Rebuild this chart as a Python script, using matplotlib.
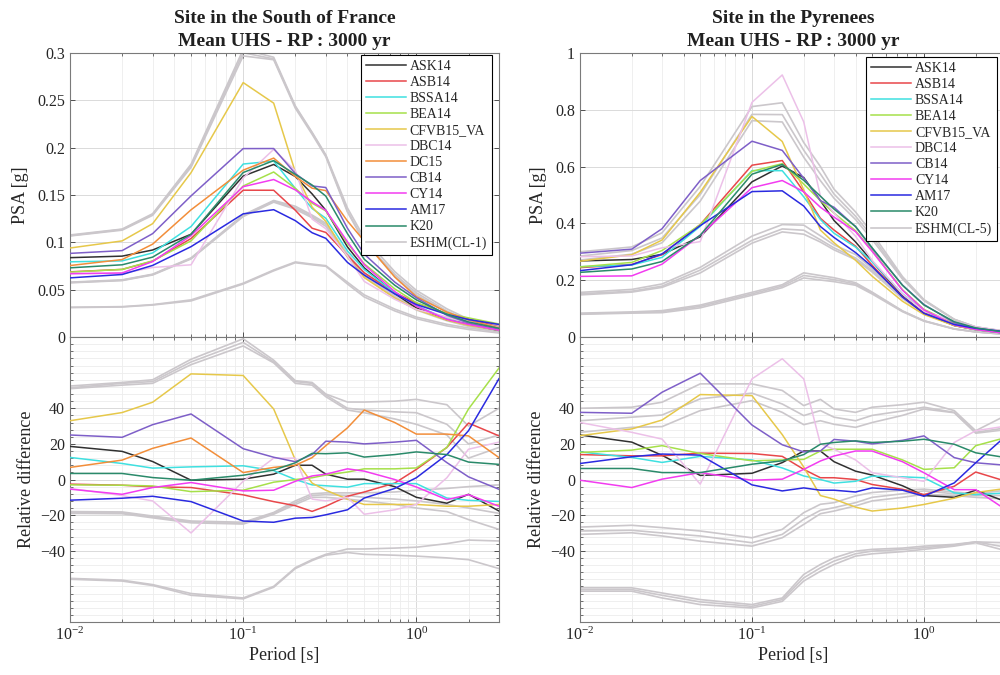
import numpy as np
import matplotlib
matplotlib.use('Agg')
import matplotlib.pyplot as plt
from matplotlib.ticker import LogLocator, MultipleLocator, NullFormatter

plt.rcParams['font.family'] = ['Liberation Serif', 'DejaVu Serif']
plt.rcParams['mathtext.fontset'] = 'stix'

# Periodes spectrales [s]
periods = [0.01, 0.02, 0.03, 0.05, 0.1, 0.15, 0.2, 0.25, 0.3, 0.4, 0.5, 0.75, 1.0, 1.5, 2.0, 3.0]

# Spectre de reference (PSA [g]) pour chaque site
ref_france = [0.0707, 0.0738, 0.0835, 0.109, 0.1697, 0.177, 0.157, 0.140, 0.130, 0.095, 0.073, 0.048, 0.034, 0.021, 0.0145, 0.0085]
ref_pyrenees = [0.2144, 0.2256, 0.256, 0.345, 0.528, 0.55, 0.484, 0.414, 0.373, 0.32, 0.26, 0.15, 0.092, 0.045, 0.028, 0.015]

# Difference relative [%] - Site in the South of France
fr_ASK14 = [18.6, 15.8, 10.1, -0.4, 0.2, 3, 8, 8, 3, 0.2, 0.2, -4, -10, -13.3, -8.3, -17.7]
fr_ASB14 = [-2.6, -3.2, -4.1, -4.5, -8.6, -12.4, -14.7, -17.9, -15, -9.4, -7, -2, 5.7, 18, 31.7, 24.5]
fr_BSSA14 = [12.4, 9, 6.4, 7.1, 7.7, 5, 0, -3, -3.5, -4.3, -2.3, -2.3, -2.3, -10.4, -11.7, -12.3]
fr_BEA14 = [-3, -3.2, -3.6, -6.8, -6, -1.5, 0, 1, 2.5, 4.2, 6, 6, 6.5, 18, 39.6, 62.6]
fr_CFVB15 = [33, 37.6, 43.4, 59.3, 58.4, 39.6, 11, -2, -6, -11, -14, -14, -14, -15, -15, -14]
fr_DBC14 = [-5, -9, -12, -30, -1, 12, 12, -11, -12, -10, -19.5, -17, -14, 1, 17, 21]
fr_DC15 = [6.8, 10.9, 17.5, 23.3, 3.9, 6.8, 8, 12.3, 19, 29, 39, 32, 25.5, 25.5, 24.5, 12.3]
fr_CB14 = [25, 23.7, 30.8, 36.8, 17.3, 12.5, 10, 14, 21.5, 21, 20, 21, 22, 9.5, 1.5, -5.5]
fr_CY14 = [-5.4, -8.3, -4.5, -1.7, -6.4, -6, -1, 2, 3, 6, 4.7, 0, -4.2, -11.3, -8.5, -15]
fr_AM17 = [-11.6, -10.5, -9.4, -12.4, -23.3, -24, -21.7, -21.3, -19.8, -17, -10.4, -5, 1, 14, 27.4, 56.6]
fr_K20 = [3.4, 3.4, 1.1, -0.4, 2.4, 5.3, 9.4, 14.7, 14.5, 15, 12.6, 14, 15.5, 14, 9.8, 8.5]

fr_eshm_1 = [52.5, 54.5, 56, 67.5, 79, 67, 55.5, 54.5, 48, 43.5, 43.5, 44, 45, 42, 30, 40]
fr_eshm_2 = [51.5, 54, 55, 66, 77, 66, 55, 54, 47.5, 40, 39, 38, 37.5, 31, 20, 25]
fr_eshm_3 = [51, 53, 54, 64.5, 75, 65.5, 54, 53, 46.5, 39, 37.5, 34, 31, 25, 12, 18]
fr_eshm_4 = [-18, -18.2, -20.5, -23.3, -24, -18.5, -12, -8, -7.5, -7.5, -7.5, -7, -6, -5, -4, -3]
fr_eshm_5 = [-18.5, -18.7, -21, -23.8, -24.5, -19, -13, -9, -8.5, -9, -10, -11, -12, -14, -16, -19]
fr_eshm_6 = [-19, -19.2, -21.5, -24.3, -25, -19.5, -14, -10, -10, -11, -12, -14, -16, -18, -22.5, -28]
fr_eshm_7 = [-55.5, -56.5, -59, -64, -66.5, -60, -49.5, -45, -42, -39, -39, -38.5, -38, -36, -34, -34.5]
fr_eshm_8 = [-56, -57, -59.5, -65, -67, -60.5, -50, -45.5, -42.5, -41, -42, -42.5, -43, -44, -45, -50]

# Difference relative [%] - Site in the Pyrenees
py_ASK14 = [25, 21, 13.6, 2.3, 3.5, 9.5, 16, 16, 10, 4.7, 2.5, -3.5, -9, -10, -6, -12.5]
py_ASB14 = [14, 13.3, 13.3, 14.8, 14.6, 13, 5.7, 1, 1, 0, -2.8, -5.5, -8.5, -3.8, 4.2, -1]
py_BSSA14 = [15.5, 12.4, 9.6, 13, 11, 6.5, 2, 0, -2, -1, 1.9, 1.5, 1, -7.5, -8.5, -7.5]
py_BEA14 = [15.2, 16.5, 19, 14.6, 10.5, 11, 11.3, 16, 17, 17, 17, 11, 5.7, 6.6, 19, 23.6]
py_CFVB15 = [24.6, 28.4, 33.4, 47.7, 47.1, 25.2, 7, -9, -11, -15.5, -17.7, -16, -14, -10.5, -7.3, -5]
py_DBC14 = [32, 26.5, 22.7, -2.6, 56.5, 67.8, 56.5, 20, 17, 11, 3.8, 1, -1, 20.8, 27.4, 30]
py_CB14 = [37.7, 37.2, 49, 59.7, 30.6, 19.5, 15.5, 16, 22.5, 21.5, 20, 22, 24.5, 12.3, 9.4, 8]
py_CY14 = [-0.4, -4.5, 0.2, 3.9, -0.4, 0.2, 5.7, 10.4, 13.2, 16, 16, 10, 3.8, -5.7, -5.7, -17]
py_AM17 = [9, 12.8, 14.3, 13.7, -3, -6.4, -4.7, -6, -6, -7, -4.7, -6, -9.4, -1.9, 9.4, 24.5]
py_K20 = [6.2, 6.2, 3.9, 3.9, 8.6, 10.5, 14, 19.8, 20.8, 21.7, 20.8, 21.5, 22.6, 19.8, 15, 12.3]

py_eshm_1 = [40, 40.6, 43.4, 53.7, 53.7, 50, 41.5, 45, 39.6, 37.7, 40.6, 42, 43.4, 38.7, 27.4, 36]
py_eshm_2 = [33, 35, 36.2, 45.3, 48.5, 42.4, 35.9, 38.7, 35, 33, 36, 38.5, 40.6, 37.7, 26.5, 29]
py_eshm_3 = [26.5, 29.3, 29.7, 38.7, 44.3, 37.7, 30.8, 33, 31, 29.3, 32, 36, 39.6, 37.5, 26, 28]
py_eshm_4 = [-26.7, -25.7, -27, -28.9, -32.7, -28, -18.6, -13.9, -13, -9.2, -7.3, -6, -5.4, -7, -8, -6]
py_eshm_5 = [-28.9, -28.5, -30, -31.7, -35.5, -30.8, -22.3, -17.3, -15.8, -13, -10, -8, -6.4, -8, -9, -9]
py_eshm_6 = [-30.8, -29.9, -31.7, -34.6, -37.4, -32.7, -25.2, -19.2, -17.7, -14.8, -12, -10, -8.3, -9, -10, -11]
py_eshm_7 = [-60.8, -60.8, -63.7, -67.4, -70.2, -66.5, -53.3, -47.7, -44, -40.2, -39.2, -38.5, -37.4, -36.4, -35, -35.5]
py_eshm_8 = [-61.8, -61.8, -65, -68.7, -71.2, -67.4, -55.2, -49.6, -45.8, -41.7, -40.2, -39.3, -38.3, -36.8, -35, -38]
py_eshm_9 = [-62.7, -62.7, -66.5, -70.2, -72.1, -68.4, -57, -51.5, -47.7, -43, -41.7, -40.5, -39.2, -37.4, -35.5, -40]

colors = {
    'ASK14': '#303030', 'ASB14': '#e8474a', 'BSSA14': '#3fe0e0', 'BEA14': '#a6e04a',
    'CFVB15_VA': '#e6c84a', 'DBC14': '#ecc0e8', 'DC15': '#f28e3a', 'CB14': '#7e5fc8',
    'CY14': '#f23cf0', 'AM17': '#2a2ae0', 'K20': '#2a8a6a',
}
grey = '#cbc7cb'

france = [('ASK14', fr_ASK14), ('ASB14', fr_ASB14), ('BSSA14', fr_BSSA14), ('BEA14', fr_BEA14),
          ('CFVB15_VA', fr_CFVB15), ('DBC14', fr_DBC14), ('DC15', fr_DC15), ('CB14', fr_CB14),
          ('CY14', fr_CY14), ('AM17', fr_AM17), ('K20', fr_K20)]
france_eshm = [fr_eshm_1, fr_eshm_2, fr_eshm_3, fr_eshm_4, fr_eshm_5, fr_eshm_6, fr_eshm_7, fr_eshm_8]

pyrenees = [('ASK14', py_ASK14), ('ASB14', py_ASB14), ('BSSA14', py_BSSA14), ('BEA14', py_BEA14),
            ('CFVB15_VA', py_CFVB15), ('DBC14', py_DBC14), ('CB14', py_CB14),
            ('CY14', py_CY14), ('AM17', py_AM17), ('K20', py_K20)]
pyrenees_eshm = [py_eshm_1, py_eshm_2, py_eshm_3, py_eshm_4, py_eshm_5, py_eshm_6, py_eshm_7, py_eshm_8, py_eshm_9]

T = np.array(periods)
lw = 1.1
spine_col = '#7a7a7a'


def style_axis(ax):
    ax.set_xscale('log')
    ax.set_xlim(0.01, 3)
    ax.xaxis.set_major_locator(LogLocator(base=10, numticks=10))
    ax.xaxis.set_minor_locator(LogLocator(base=10, subs=np.arange(2, 10), numticks=10))
    ax.xaxis.set_minor_formatter(NullFormatter())
    ax.tick_params(which='both', direction='in', top=True, right=True, labelsize=11.5,
                   colors='#3a3a3a', labelcolor='#262626')
    ax.tick_params(which='major', length=3.5, width=0.6)
    ax.tick_params(which='minor', length=2, width=0.5)
    ax.grid(True, which='major', color='#dadada', lw=0.7)
    ax.grid(True, which='minor', color='#ededed', lw=0.6)
    ax.set_axisbelow(True)
    for s in ax.spines.values():
        s.set_color(spine_col)
        s.set_linewidth(0.8)


def draw_site(left, width, ref, models, eshm, eshm_label, title, ytop, ystep, leg_anchor):
    ref = np.array(ref)
    ax_top = fig.add_axes([left, 0.5007, width, 0.4207])
    ax_bot = fig.add_axes([left, 0.0785, width, 0.4222])

    # ESHM (gris, en arriere-plan)
    for rel in eshm:
        rel = np.array(rel)
        h_eshm, = ax_top.plot(T, ref * (1 + rel / 100), color=grey, lw=lw + 0.1, zorder=2)
        ax_bot.plot(T, rel, color=grey, lw=lw + 0.1, zorder=2)

    handles = []
    for name, rel in models:
        rel = np.array(rel)
        h, = ax_top.plot(T, ref * (1 + rel / 100), color=colors[name], lw=lw, label=name, zorder=3)
        ax_bot.plot(T, rel, color=colors[name], lw=lw, zorder=3)
        handles.append(h)
    h_eshm.set_label(eshm_label)
    handles.append(h_eshm)

    style_axis(ax_top)
    style_axis(ax_bot)

    ax_top.set_ylim(0, ytop)
    ax_top.yaxis.set_major_locator(MultipleLocator(ystep))
    ax_top.yaxis.set_major_formatter(plt.FuncFormatter(lambda v, p: f'{v:g}'))
    ax_top.tick_params(axis='x', which='both', labelbottom=False)
    ax_top.grid(False, which='minor', axis='y')
    ax_top.set_ylabel('PSA [g]', fontsize=13, color='#262626', labelpad=6)
    ax_top.set_title(title, fontsize=14, fontweight='bold', color='#202020', pad=5, linespacing=1.45)

    ax_bot.set_ylim(-80, 80)
    ax_bot.set_yticks([-40, -20, 0, 20, 40])
    ax_bot.yaxis.set_minor_locator(MultipleLocator(4))
    ax_bot.set_ylabel('Relative difference', fontsize=13, color='#262626', labelpad=4)
    ax_bot.set_xlabel('Period [s]', fontsize=13, color='#262626', labelpad=2)

    leg = ax_top.legend(handles=handles, loc='upper right', bbox_to_anchor=leg_anchor,
                        bbox_transform=fig.transFigure, borderaxespad=0, fontsize=10,
                        labelspacing=0.22, handlelength=2.9, handletextpad=0.25,
                        borderpad=0.35, fancybox=False, framealpha=1, edgecolor='black')
    leg.get_frame().set_linewidth(0.8)
    leg.set_zorder(10)
    for t in leg.get_texts():
        t.set_color('#262626')


fig = plt.figure(figsize=(10, 6.75), dpi=100)

draw_site(0.070, 0.429, ref_france, france, france_eshm, 'ESHM(CL-1)',
          'Site in the South of France\nMean UHS - RP : 3000 yr', 0.3, 0.05, (0.492, 1 - 55 / 675))
draw_site(0.580, 0.426, ref_pyrenees, pyrenees, pyrenees_eshm, 'ESHM(CL-5)',
          'Site in the Pyrenees\nMean UHS - RP : 3000 yr', 1.0, 0.2, (0.997, 1 - 57 / 675))

fig.savefig('out.png', dpi=100)
